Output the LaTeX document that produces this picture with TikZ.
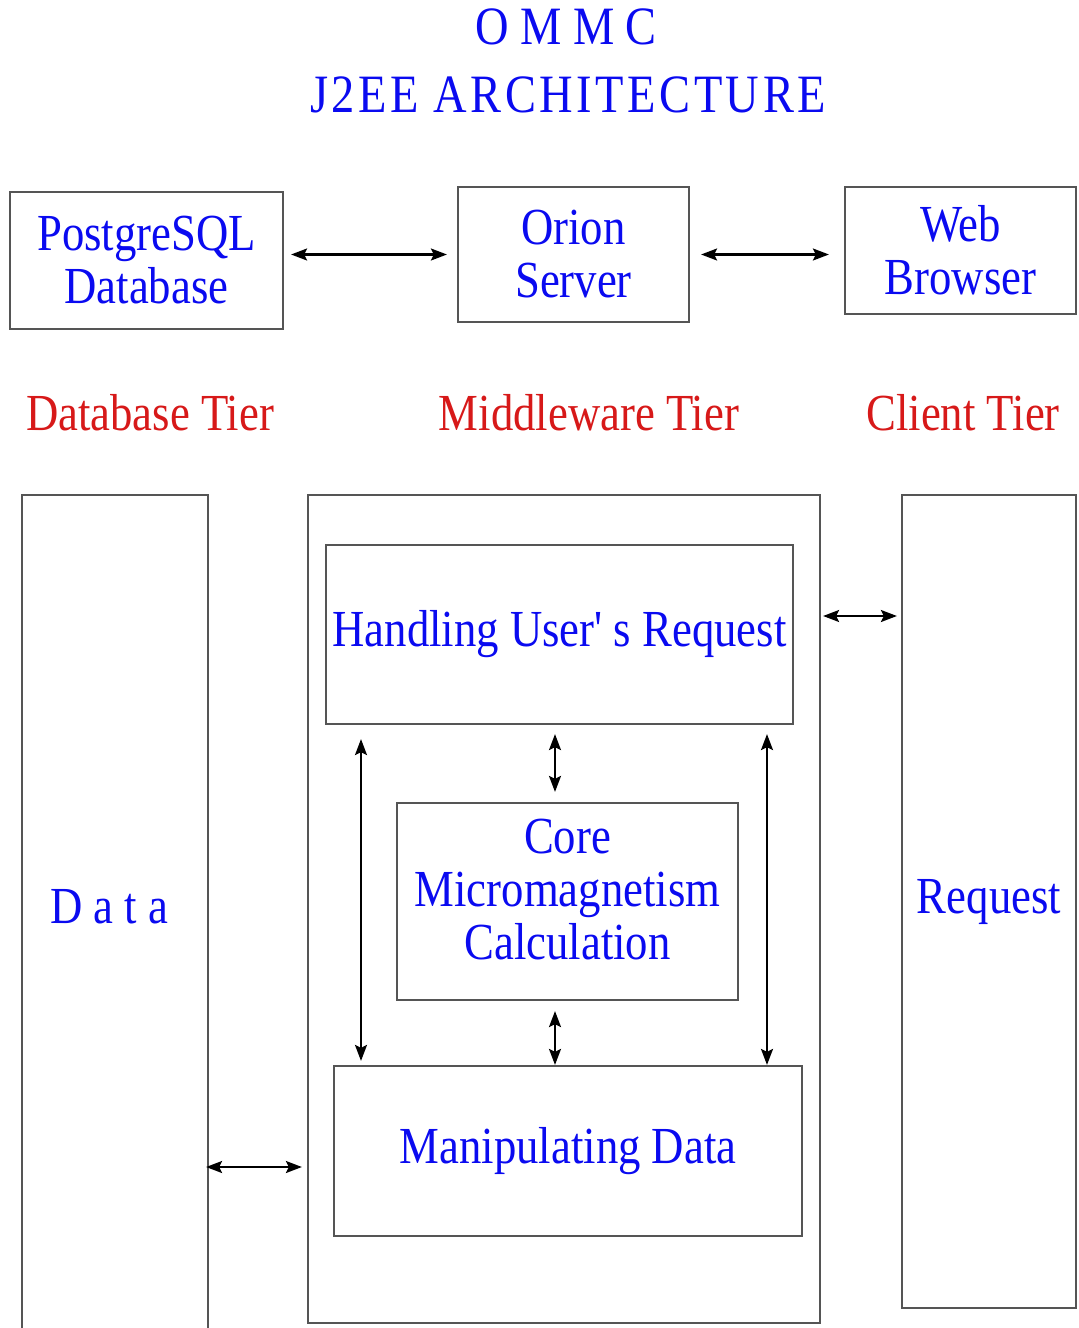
\documentclass[tikz,border=0pt]{standalone}
\usepackage{fontspec}
\setmainfont{Liberation Serif}[FakeStretch=0.86]
\newfontfamily\plainquote{Liberation Serif}[FakeStretch=0.86,Ligatures=TeXOff]
\newfontfamily\titlefont{Liberation Serif}[FakeStretch=0.86]
\newfontfamily\titlefontsp{Liberation Serif}[FakeStretch=0.86,LetterSpace=6.5]
\usetikzlibrary{arrows.meta}
\definecolor{txtblue}{RGB}{10,10,240}
\definecolor{txtred}{RGB}{215,25,25}
\definecolor{linegray}{RGB}{85,85,85}
\tikzset{
  box/.style={draw=linegray, line width=2.2pt, rectangle, inner sep=0pt, align=center,
    text=txtblue, font=\fontsize{52}{53}\selectfont},
  tier/.style={text=txtred, font=\fontsize{52}{53}\selectfont, anchor=base, inner sep=0pt},
  lbl/.style={text=txtblue, font=\fontsize{52}{53}\selectfont, inner sep=0pt, align=center},
  arr/.style={line width=2.2pt, black, {Stealth[length=16pt,width=12pt,inset=3pt]}-{Stealth[length=16pt,width=12pt,inset=3pt]}},
}
\begin{document}
\begin{tikzpicture}[x=1pt,y=-1pt]
\useasboundingbox (0,0) rectangle (1079,1328);
% title
\node[text=txtblue, font=\titlefont\fontsize{54}{54}\selectfont, anchor=base, inner sep=0pt] (t1) at (566,44) {O M M C};
\node[text=txtblue, font=\titlefontsp\fontsize{54}{54}\selectfont, anchor=base, inner sep=0pt] (t2) at (568,112) {J2EE ARCHITECTURE};
% top row
\node[box, minimum width=273pt, minimum height=137pt] (pg) at (146.5,260.5) {PostgreSQL\\Database};
\node[box, minimum width=231pt, minimum height=135pt] (orion) at (573.5,254.5) {Orion\\Server};
\node[box, minimum width=231pt, minimum height=127pt] (web) at (960.5,250.5) {Web\\Browser};
\draw[arr, shorten <=7pt, shorten >=10pt] (pg.east |- orion.west) -- (orion.west);
\draw[arr, shorten <=11pt, shorten >=15pt] (orion.east) -- (orion.east -| web.west);
% tiers
\node[tier] (dbt) at (150,430) {Database Tier};
\node[tier] (mwt) at (589,430) {Middleware Tier};
\node[tier] (clt) at (963,430) {Client Tier};
% columns
\node[box, minimum width=186pt, minimum height=860pt] (data) at (115,925) {};
\node[lbl] (datatxt) at (109,907) {D a t a};
\node[box, minimum width=512pt, minimum height=828pt] (mw) at (564,909) {};
\node[box, minimum width=174pt, minimum height=813pt] (req) at (989,901.5) {Request};
\node[box, minimum width=467pt, minimum height=179pt] (hand) at (559.5,634.5) {Handling User{\plainquote'}\ s Request};
\node[box, minimum width=341pt, minimum height=197pt] (core) at (567.5,901.5) {};
\node[lbl] (coretxt) at (567.5,890) {Core\\Micromagnetism\\Calculation};
\node[box, minimum width=468pt, minimum height=170pt] (manip) at (568,1151) {Manipulating Data};
% connector coordinates
\coordinate (rq) at (0,616);
\coordinate (dq) at (0,1167);
\coordinate (vl) at (361,0);
\coordinate (vm) at (555,0);
\coordinate (vr) at (767,0);
\draw[arr, shorten <=2pt, shorten >=4pt] (mw.east |- rq) -- (req.west |- rq);
\draw[arr, shorten <=-3pt, shorten >=5pt] (data.east |- dq) -- (mw.west |- dq);
\draw[arr, shorten <=14pt, shorten >=4pt] (hand.south -| vl) -- (manip.north -| vl);
\draw[arr, shorten <=9pt, shorten >=10pt] (hand.south -| vm) -- (core.north -| vm);
\draw[arr, shorten <=10pt, shorten >=0pt] (core.south -| vm) -- (manip.north -| vm);
\draw[arr, shorten <=9pt, shorten >=0pt] (hand.south -| vr) -- (manip.north -| vr);
\end{tikzpicture}
\end{document}
